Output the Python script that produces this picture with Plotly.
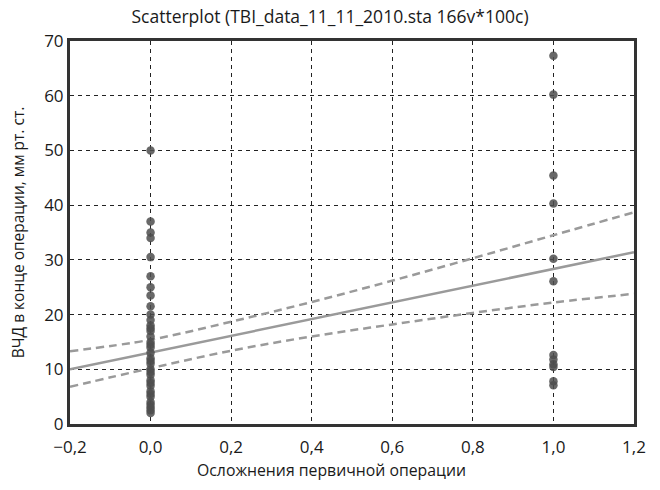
import plotly.graph_objects as go

# Data
x0_values = [50, 37, 35, 34, 30.5, 27, 25, 23.5, 21.5, 20, 19, 18, 17.5, 17, 16, 15, 14.5,
             14, 13, 12, 11.5, 11, 10, 9.5, 9, 8, 7.5, 7, 6, 5.5, 5, 4, 3.5, 3, 2.5, 2]
x1_values = [67.3, 60.2, 45.4, 40.3, 30.2, 26.1, 12.6, 11.8, 10.9, 10.4, 7.8, 7.1]

fit_x = [-0.2, 1.2]
fit_y = [10.0, 31.4]

band_x = [-0.2, 0.0, 0.2, 0.4, 0.6, 0.8, 1.0, 1.2]
band_upper = [13.3, 15.4, 18.7, 22.3, 26.2, 30.3, 34.5, 38.7]
band_lower = [6.8, 10.2, 13.4, 16.0, 18.2, 20.3, 22.2, 23.8]

x_ticks = [-0.2, 0.0, 0.2, 0.4, 0.6, 0.8, 1.0, 1.2]
y_ticks = [0, 10, 20, 30, 40, 50, 60, 70]

title_text = "Scatterplot (TBI_data_11_11_2010.sta 166v*100c)"
x_title = "Осложнения первичной операции"
y_title = "ВЧД в конце операции, мм рт. ст."

xs = [0.0] * len(x0_values) + [1.0] * len(x1_values)
ys = x0_values + x1_values

fig = go.Figure()
fig.add_trace(go.Scatter(x=band_x, y=band_upper, mode="lines",
                         line=dict(color="#9a9a9a", width=2.5, dash="8px,5px", shape="spline"),
                         hoverinfo="skip", showlegend=False))
fig.add_trace(go.Scatter(x=band_x, y=band_lower, mode="lines",
                         line=dict(color="#9a9a9a", width=2.5, dash="8px,5px", shape="spline"),
                         hoverinfo="skip", showlegend=False))
fig.add_trace(go.Scatter(x=fit_x, y=fit_y, mode="lines",
                         line=dict(color="#9a9a9a", width=2.5),
                         hoverinfo="skip", showlegend=False))
fig.add_trace(go.Scatter(x=xs, y=ys, mode="markers",
                         marker=dict(size=8.5, color="#4d4d4d", opacity=0.85, line=dict(width=0)),
                         showlegend=False))

font_family = "Open Sans, Noto Sans, sans-serif"
fig.update_layout(
    width=660, height=490,
    margin=dict(l=70, r=26, t=41, b=66),
    paper_bgcolor="white", plot_bgcolor="white",
    separators=", ",
    font=dict(family=font_family, color="#1a1a1a"),
    title=dict(text=title_text, x=0.5, xanchor="center", y=0.978, yanchor="top",
               font=dict(size=17.5, family=font_family, color="#1a1a1a")),
    xaxis=dict(range=[-0.2, 1.2], tickvals=x_ticks, tickformat=".1f",
               showgrid=True, gridcolor="#222", griddash="4px,4px", gridwidth=1,
               zeroline=False, showline=True, linecolor="#333", linewidth=3, mirror=True,
               ticks="", tickfont=dict(size=17), ticklabelstandoff=6),
    yaxis=dict(range=[0, 70], tickvals=y_ticks,
               showgrid=True, gridcolor="#222", griddash="4px,4px", gridwidth=1,
               zeroline=False, showline=True, linecolor="#333", linewidth=3, mirror=True,
               ticks="", tickfont=dict(size=17),
               title=dict(text=y_title, font=dict(size=15.5), standoff=16)),
    annotations=[dict(text=x_title, xref="paper", yref="paper", x=0.463, y=-0.12,
                      xanchor="center", yanchor="middle", showarrow=False,
                      font=dict(size=15.8, family=font_family, color="#1a1a1a"))],
)

fig.write_html("out.html", config={"displayModeBar": False},
               post_script="document.body.style.margin='0';")
